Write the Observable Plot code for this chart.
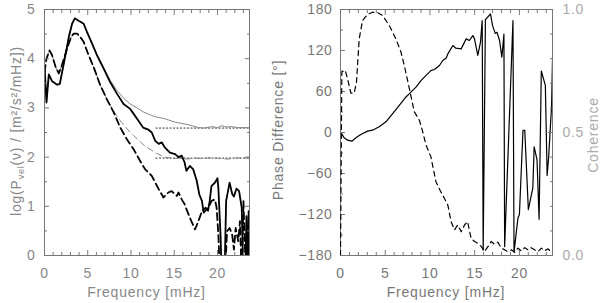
<!DOCTYPE html>
<html><head><meta charset="utf-8">
<script src="https://cdn.jsdelivr.net/npm/d3@7"></script>
<script src="https://cdn.jsdelivr.net/npm/@observablehq/plot@0.6"></script>
<style>
body{margin:0;background:#fff;}
#chart{position:relative;width:600px;height:303px;overflow:hidden;background:#fff;}
#chart svg{position:absolute;top:0;}
</style></head><body><div id="chart"></div>
<script>
// ---------- data ----------
const freqDomain = [0, 23.7];
const xMajorTicks = [0, 5, 10, 15, 20];
const xMinorTicks = [1,2,3,4,6,7,8,9,11,12,13,14,16,17,18,19,21,22,23];
const powerMajorTicks = [0, 1, 2, 3, 4, 5];
const powerMinorTicks = [0.5, 1.5, 2.5, 3.5, 4.5];
const phaseMajorTicks = [-180, -120, -60, 0, 60, 120, 180];
const phaseMinorTicks = [-150, -90, -30, 30, 90, 150];
const cohMajorTicks = [0, 0.5, 1];
const cohMinorTicks = [0.1,0.2,0.3,0.4,0.6,0.7,0.8,0.9];

// thick solid power spectrum
const psdSolidF = [0,0.23,0.5,0.88,1.46,1.77,2.23,2.81,3.19,3.5,3.84,4.15,4.53,4.92,5.49,6.07,6.84,7.6,8.37,9.14,9.9,10.7,11.4,12.0,12.4,12.8,13.2,13.55,13.9,14.5,15.1,15.5,15.86,16.2,16.4,16.8,17.2,17.6,17.9,18.2,18.4,18.75,18.9,19.1,19.3,19.7,20.0,20.1,20.35,20.5,20.8,21.0,21.4,21.7,21.9,22.2,22.5,22.8,23.0,23.2,23.35,23.5,23.6];
const psdSolidV = [3.86,3.11,3.68,3.54,3.47,3.49,3.90,4.44,4.71,4.82,4.78,4.75,4.71,4.54,4.31,4.07,3.80,3.52,3.29,3.08,2.98,2.78,2.60,2.56,2.50,2.33,2.27,2.30,2.20,2.09,2.06,2.00,2.03,1.89,1.72,1.82,1.75,1.52,1.24,1.11,0.87,0.94,0.91,1.11,1.41,1.48,1.57,1.38,0.42,-0.5,-0.5,1.11,1.48,1.25,1.20,1.36,1.31,0.97,-0.5,-0.5,0.8,-0.5,0.9];
// thin solid power spectrum
const psdThinSolidF = [0,0.23,0.5,0.88,1.46,1.77,2.23,2.81,3.19,3.5,3.84,4.15,4.53,4.92,5.49,6.07,6.84,7.6,8.37,9.14,9.9,10.7,11.4,12.2,12.8,13.9,15.1,16.6,17.8,18.5,19.3,20.0,20.5,21.0,21.6,22.3,23.1,23.6];
const psdThinSolidV = [3.86,3.11,3.68,3.54,3.47,3.49,3.90,4.44,4.71,4.82,4.78,4.75,4.71,4.54,4.31,4.08,3.82,3.56,3.36,3.20,3.08,3.00,2.92,2.86,2.82,2.78,2.71,2.66,2.60,2.59,2.62,2.60,2.64,2.61,2.62,2.60,2.60,2.60];
// thick dashed power spectrum
const psdDashF = [0,0.23,0.58,0.88,1.27,1.65,2.0,2.6,3.07,3.38,3.76,4.15,4.53,5.1,5.68,6.45,7.2,8.0,8.76,9.5,10.3,11.06,11.64,12.4,13.2,13.75,14.3,14.7,15.3,15.5,15.86,16.2,16.8,17.4,17.8,18.2,18.6,18.9,19.3,19.7,19.9,20.1,20.3,20.85,21.1,21.4,21.7,21.9,22.1,22.4,22.6,22.8,23.0,23.3,23.6];
const psdDashV = [3.73,4.0,4.17,4.07,3.84,3.70,3.86,4.2,4.44,4.51,4.51,4.44,4.34,4.07,3.83,3.46,3.18,2.91,2.60,2.37,2.16,1.92,1.75,1.62,1.35,1.18,1.28,1.31,1.21,1.28,1.14,1.04,0.77,0.53,0.70,0.90,0.97,0.94,1.11,1.14,0.97,0.42,-0.5,-0.5,0.49,0.56,0.42,0.12,0.56,0.29,0.70,-0.5,1.11,-0.5,0.3];
// thin dashed power spectrum
const psdThinDashF = [0,0.23,0.58,0.88,1.27,1.65,2.0,2.6,3.07,3.38,3.76,4.15,4.53,5.1,5.68,6.45,7.2,8.0,8.76,9.5,10.3,10.7,11.64,12.2,12.8,13.9,15.0,15.5,16.5,17.4,18.3,19.3,20.2,21.2,22.1,23.1,23.6];
const psdThinDashV = [3.73,4.0,4.17,4.07,3.84,3.70,3.86,4.2,4.44,4.51,4.51,4.44,4.34,4.07,3.83,3.46,3.19,2.93,2.74,2.58,2.44,2.37,2.22,2.16,2.09,2.00,1.97,1.98,1.96,1.98,1.97,1.99,1.97,1.96,1.98,1.99,1.97];
// noise levels (dotted)
const noiseLevels = [2.59, 1.98];
const noiseFrom = 12.9;

// phase difference
const phaseF = [0,0.41,0.78,1.27,1.72,2.27,3.02,3.58,4.33,5.08,5.83,6.57,7.32,8.07,8.44,9.0,9.56,9.94,10.1,10.5,11.06,11.43,11.8,12.0,12.56,12.9,13.49,14.05,14.4,14.8,14.98,15.35,15.65,15.84,15.95,16.2,16.4,16.77,17.0,17.3,17.5,17.78,18.04,18.27,18.35,19.28,19.4,19.84,20.0,20.4,20.6,21.0,21.5,21.65,21.97,22.2,22.45,22.9,23.1,23.27,23.6,23.8];
const phaseP = [1,-7.8,-11.2,-12.7,-7.8,-2.9,2,3.4,8.3,15.6,27.7,39.8,52,61.6,66.5,76,83.5,88.3,90.5,92.2,98,105.4,108.8,115,127.3,123.4,122.4,137,134.6,141.9,137,112.7,132.2,163.7,-172,165,168,173.4,156.4,145,146.6,134.6,110.2,144,-167,163.7,-175,-125,-120,3.3,3.3,-113,-81,-21,-40,-127,90,69,-63,-36,39.8,175];
// coherence
const cohF = [0,0.15,0.52,0.78,1.16,1.53,1.79,2.09,2.46,3.02,3.58,4.14,4.7,5.45,6.2,6.76,7.13,7.7,8.25,8.82,9.19,9.56,10.1,10.67,11.2,11.62,12.0,12.36,12.74,13.1,13.5,13.86,14.2,14.6,14.98,15.35,15.73,16.1,16.5,16.85,17.2,17.6,17.97,18.35,18.7,19.1,19.5,19.84,20.2,20.6,20.96,21.3,21.7,22.08,22.45,22.8,23.2,23.6];
const cohC = [0,0.746,0.753,0.72,0.66,0.66,0.705,0.88,0.955,0.98,0.989,0.987,0.976,0.935,0.88,0.827,0.773,0.678,0.584,0.55,0.503,0.449,0.402,0.30,0.26,0.232,0.205,0.138,0.104,0.124,0.097,0.124,0.138,0.07,0.057,0.05,0.037,0.016,0.037,0.057,0.046,0.054,0.03,0.023,0.016,0.023,0.013,0.03,0.019,0.032,0.023,0.032,0.023,0.016,0.03,0.019,0.027,0.013];

// ---------- helpers ----------
const zip = (xs, ys) => xs.map((x, i) => ({x, y: ys[i]}));
const FONT = "'Liberation Sans', Arial, sans-serif";
const FRAME = "#777";
const blank = () => "";

function xAxes() {
  return [
    Plot.axisX({anchor: "bottom", ticks: xMajorTicks, tickSize: -5, tickPadding: 18, tickFormat: d => String(d), label: null, stroke: FRAME}),
    Plot.axisX({anchor: "bottom", ticks: xMinorTicks, tickSize: -3, tickFormat: blank, label: null, stroke: FRAME}),
    Plot.axisX({anchor: "top", ticks: xMajorTicks, tickSize: -5, tickFormat: blank, label: null, stroke: FRAME}),
    Plot.axisX({anchor: "top", ticks: xMinorTicks, tickSize: -3, tickFormat: blank, label: null, stroke: FRAME})
  ];
}
const baseStyle = {fontFamily: FONT, fontSize: "14px", color: "#888", background: "transparent", letterSpacing: "0.6px"};

// ---------- left panel ----------
const left = Plot.plot({
  width: 260, height: 303,
  marginLeft: 44, marginRight: 11, marginTop: 9, marginBottom: 48,
  style: baseStyle,
  x: {domain: freqDomain},
  y: {domain: [0, 5]},
  marks: [
    Plot.ruleY(noiseLevels, {y: d => d, x1: noiseFrom, x2: freqDomain[1], stroke: "#333", strokeWidth: 1, strokeDasharray: "2,1.5"}),
    Plot.line(zip(psdThinSolidF, psdThinSolidV), {x: "x", y: "y", stroke: "#888", strokeWidth: 1, clip: true}),
    Plot.line(zip(psdThinDashF, psdThinDashV), {x: "x", y: "y", stroke: "#888", strokeWidth: 1, strokeDasharray: "6,4", clip: true}),
    Plot.line(zip(psdDashF, psdDashV), {x: "x", y: "y", stroke: "#000", strokeWidth: 1.8, strokeDasharray: "7,4", clip: true}),
    Plot.line(zip(psdSolidF, psdSolidV), {x: "x", y: "y", stroke: "#000", strokeWidth: 1.8, clip: true}),
    Plot.frame({stroke: FRAME}),
    ...xAxes(),
    Plot.axisY({anchor: "left", ticks: powerMajorTicks, tickSize: -5, tickPadding: 14, tickFormat: d => String(d), label: null, stroke: FRAME}),
    Plot.axisY({anchor: "left", ticks: powerMinorTicks, tickSize: -3, tickFormat: blank, label: null, stroke: FRAME}),
    Plot.axisY({anchor: "right", ticks: powerMajorTicks, tickSize: -5, tickFormat: blank, label: null, stroke: FRAME}),
    Plot.axisY({anchor: "right", ticks: powerMinorTicks, tickSize: -3, tickFormat: blank, label: null, stroke: FRAME})
  ]
});
left.style.left = "0px";

// ---------- right panel (phase) ----------
const right = Plot.plot({
  width: 340, height: 303,
  marginLeft: 80, marginRight: 48, marginTop: 9, marginBottom: 48,
  style: {...baseStyle, color: "#777"},
  x: {domain: freqDomain},
  y: {domain: [-180, 180]},
  marks: [
    Plot.line(zip(phaseF, phaseP), {x: "x", y: "y", stroke: "#000", strokeWidth: 1.2, clip: true}),
    Plot.frame({stroke: FRAME}),
    ...xAxes(),
    Plot.axisY({anchor: "left", ticks: phaseMajorTicks, tickSize: -5, tickPadding: 13, tickFormat: d => d < 0 ? "\u2212" + Math.abs(d) : String(d), label: null, stroke: FRAME}),
    Plot.axisY({anchor: "left", ticks: phaseMinorTicks, tickSize: -3, tickFormat: blank, label: null, stroke: FRAME})
  ]
});
right.style.left = "260px";

// ---------- coherence overlay ----------
const coh = Plot.plot({
  width: 340, height: 303,
  marginLeft: 80, marginRight: 48, marginTop: 9, marginBottom: 48,
  style: {...baseStyle, color: "#aaa"},
  x: {domain: freqDomain, axis: null},
  y: {domain: [0, 1]},
  marks: [
    Plot.line(zip(cohF, cohC), {x: "x", y: "y", stroke: "#000", strokeWidth: 1.2, strokeDasharray: "5,4", clip: true}),
    Plot.axisY({anchor: "right", ticks: cohMajorTicks, tickSize: -5, tickPadding: 15, tickFormat: d3.format(".1f"), label: null, stroke: FRAME}),
    Plot.axisY({anchor: "right", ticks: cohMinorTicks, tickSize: -3, tickFormat: blank, label: null, stroke: FRAME})
  ]
});
coh.style.left = "260px";

const chart = document.getElementById("chart");
chart.append(left, right, coh);

// ---------- titles ----------
function title(svg, x, y, rotate, color, parts) {
  const t = d3.select(svg).append("text")
    .attr("transform", `translate(${x},${y})` + (rotate ? " rotate(-90)" : ""))
    .attr("text-anchor", "middle")
    .attr("fill", color)
    .style("font-family", FONT).style("font-size", "14px").style("letter-spacing", "0.8px");
  parts.forEach(p => {
    const s = t.append("tspan").text(p.t);
    if (p.sub) s.attr("font-size", 9).attr("dy", 3);
    if (p.back) s.attr("dy", -3);
  });
  return t;
}
title(left, 146.5, 297, false, "#888", [{t: "Frequency [mHz]"}]);
title(left, 21, 131, true, "#888", [{t: "log(P"}, {t: "vel", sub: true}, {t: "(\u03BD) / [m\u00B2/s\u00B2/mHz])", back: true}]);
title(right, 186, 297, false, "#777", [{t: "Frequency [mHz]"}]);
title(right, 23, 130, true, "#777", [{t: "Phase Difference [\u00B0]"}]);
title(coh, 338, 135, true, "#aaa", [{t: "Coherence"}]);
</script></body></html>
